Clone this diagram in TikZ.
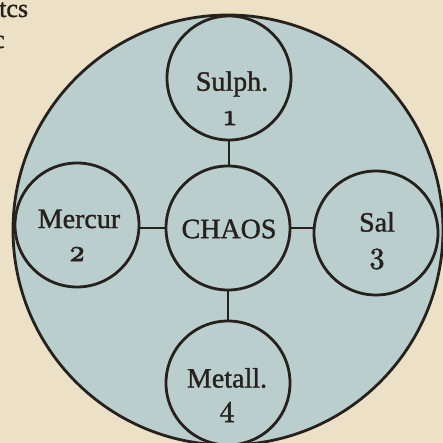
\documentclass[tikz,border=0pt]{standalone}
\usepackage{fontspec}
\setmainfont{Liberation Serif}[RawFeature={embolden=1.2}]
\newfontfamily\osf{lmroman10-regular.otf}[Numbers=OldStyle,RawFeature={embolden=2}]
\definecolor{parch}{RGB}{236,225,199}
\definecolor{wash}{RGB}{186,206,206}
\definecolor{ink}{RGB}{38,33,28}
\begin{document}
\begin{tikzpicture}[x=1pt,y=-1pt,
  orb/.style={circle,draw=ink,line width=2.8pt,fill=wash,minimum size=124pt,inner sep=0pt},
  lbl/.style={text=ink,font=\fontsize{28}{30}\selectfont,inner sep=0pt},
  num/.style={text=ink,font=\osf\fontsize{30}{30}\selectfont,inner sep=0pt},
  link/.style={draw=ink,line width=2.2pt}]
\fill[parch] (0,0) rectangle (443,443);
\useasboundingbox (0,0) rectangle (443,443);
\node[text=ink,font=\fontsize{26}{28}\selectfont,inner sep=0pt,anchor=base west] (t1) at (-1,17) {tcs};
\node[text=ink,font=\fontsize{26}{28}\selectfont,inner sep=0pt,anchor=base east] (t2) at (5,48) {c};
\node[circle,draw=ink,line width=2.8pt,fill=wash,minimum size=430pt,inner sep=0pt] (big) at (228,230) {};
\node[orb] (sul) at (229,78) {};
\node[orb] (cha) at (228,228) {};
\node[orb] (mer) at (77,225) {};
\node[orb] (sal) at (376,233) {};
\node[orb] (met) at (228,383) {};
\draw[link] (sul.south) -- (sul.south |- cha.north);
\draw[link] (cha.south) -- (met.north);
\draw[link] (cha.west) -- (mer.east |- cha.west);
\draw[link] (cha.east) -- (sal.west |- cha.east);
\node[lbl] (sult) at (232,84) {Sulph.};
\node[num] (sul1) at (230,118) {1};
\node[lbl] (chat) at (229,229) {CHAOS};
\node[lbl] (mert) at (79,219) {Mercur};
\node[num] (mer2) at (77,254) {2};
\node[lbl] (salt) at (377,222) {Sal};
\node[num] (sal3) at (377,259) {3};
\node[lbl] (mett) at (227,378) {Metall.};
\node[num] (met4) at (227,412) {4};
\end{tikzpicture}
\end{document}
